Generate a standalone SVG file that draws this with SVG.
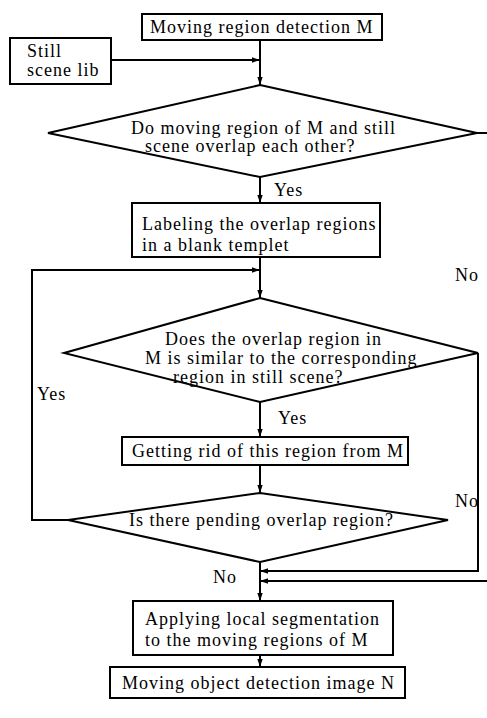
<svg xmlns="http://www.w3.org/2000/svg" width="487" height="718" viewBox="0 0 487 718">
<style>
.b{fill:#fff;stroke:#000;stroke-width:2}
.l{fill:none;stroke:#000;stroke-width:2}
.t{font-family:"Liberation Serif","Times New Roman",serif;font-size:18px;letter-spacing:1px;fill:#000}
</style>
<defs>
<marker id="ah" markerWidth="8" markerHeight="12" refX="12" refY="4" orient="auto" markerUnits="userSpaceOnUse" viewBox="0 0 12 8">
<path d="M0,0 L12,4 L0,8 Z" fill="#000"/>
</marker>
</defs>
<rect width="487" height="718" fill="#fff"/>
<g id="connectors">
<path class="l" d="M260,40 V85" marker-end="url(#ah)"/>
<path class="l" d="M111,60 H260" marker-end="url(#ah)"/>
<path class="l" d="M260,177 V203" marker-end="url(#ah)"/>
<path class="l" d="M477,133 H487"/>
<path class="l" d="M260,257 V298" marker-end="url(#ah)"/>
<path class="l" d="M68,520 H32 V270 H260" marker-end="url(#ah)"/>
<path class="l" d="M260,402 V437" marker-end="url(#ah)"/>
<path class="l" d="M260,465 V493" marker-end="url(#ah)"/>
<path class="l" d="M478,353 V571 H260" marker-end="url(#ah)"/>
<path class="l" d="M487,581 H260" marker-end="url(#ah)"/>
<path class="l" d="M260,562 V601" marker-end="url(#ah)"/>
<path class="l" d="M260,655 V667" marker-end="url(#ah)"/>
</g>
<g id="n1"><rect class="b" x="142" y="14" width="240" height="26"/><text class="t" x="150" y="33">Moving region detection M</text></g>
<g id="n2"><rect class="b" x="10" y="38" width="101" height="46"/><text class="t" x="27" y="57">Still</text><text class="t" x="27" y="76">scene lib</text></g>
<g id="n3"><polygon class="b" points="260,85 477,133 260,177 48,133"/><text class="t" x="131" y="134">Do moving region of M and still</text><text class="t" x="145" y="152">scene overlap each other?</text></g>
<text class="t" x="274" y="196">Yes</text>
<g id="n4"><rect class="b" x="132" y="203" width="248" height="54"/><text class="t" x="142" y="230">Labeling the overlap regions</text><text class="t" x="142" y="251">in a blank templet</text></g>
<text class="t" x="455" y="281">No</text>
<g id="n5"><polygon class="b" points="260,298 478,353 260,402 64,353"/><text class="t" x="165" y="345">Does the overlap region in</text><text class="t" x="145" y="364">M is similar to the corresponding</text><text class="t" x="173" y="383">region in still scene?</text></g>
<text class="t" x="37" y="400">Yes</text>
<text class="t" x="278" y="424">Yes</text>
<g id="n6"><rect class="b" x="122" y="437" width="286" height="28"/><text class="t" x="132" y="457">Getting rid of this region from M</text></g>
<text class="t" x="455" y="507">No</text>
<g id="n7"><polygon class="b" points="260,493 448,520 260,562 68,520"/><text class="t" x="129" y="526">Is there pending overlap region?</text></g>
<text class="t" x="213" y="583">No</text>
<g id="n8"><rect class="b" x="133" y="601" width="260" height="54"/><text class="t" x="145" y="625">Applying local segmentation</text><text class="t" x="145" y="646">to the moving regions of M</text></g>
<g id="n9"><rect class="b" x="110" y="667" width="295" height="31"/><text class="t" x="122" y="689">Moving object detection image N</text></g>
</svg>
